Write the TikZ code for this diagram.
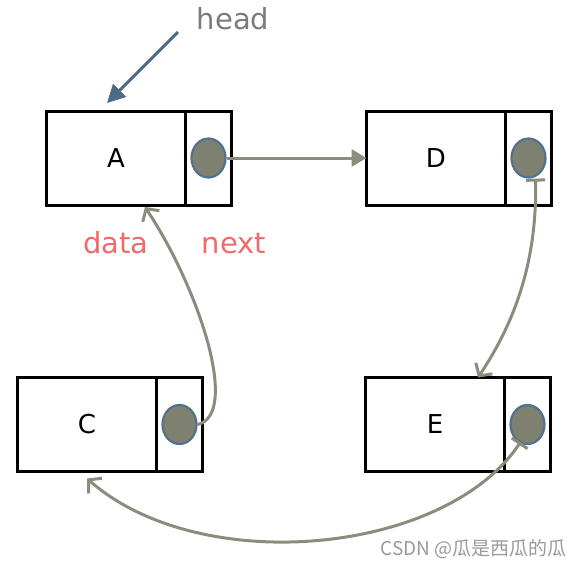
\documentclass[tikz,border=0pt]{standalone}
\usepackage{fontspec}
\setmainfont{DejaVu Sans}
\newfontfamily\cjkfont{Noto Sans CJK SC}
\usetikzlibrary{positioning,arrows.meta,shapes.geometric}
\definecolor{linkgray}{HTML}{8A8D7C}
\definecolor{dotfill}{HTML}{7E8070}
\definecolor{dotedge}{HTML}{52718F}
\definecolor{headblue}{HTML}{4D6B86}
\definecolor{labelred}{HTML}{F06A6A}
\definecolor{headgray}{HTML}{7B7B7B}
\tikzset{
databox/.style={draw,line width=3pt,outer sep=0pt,inner sep=0pt,
  minimum width=139pt,minimum height=94pt,font=\fontsize{26}{26}\selectfont},
nextbox/.style={draw,line width=3pt,outer sep=0pt,inner sep=0pt,
  minimum width=46pt,minimum height=94pt},
dot/.style={ellipse,draw=dotedge,fill=dotfill,line width=2.2pt,inner sep=0pt,
  minimum width=34pt,minimum height=39pt},
link/.style={draw=linkgray,line width=3pt},
curvelink/.style={link,{Bar[width=19pt]}-{Straight Barb[length=9pt,width=20pt]}},
tag/.style={font=\fontsize{29}{29}\selectfont,anchor=base}
}
\begin{document}
\begin{tikzpicture}[x=1pt,y=-1pt]
\useasboundingbox (0,0) rectangle (587,566);

\node[databox] (A) at (116,158) {A};
\node[nextbox,right=0pt of A] (Anext) {};
\node[dot] (Adot) at (Anext) {};

\node[databox] (D) at (436,158) {D};
\node[nextbox,right=0pt of D] (Dnext) {};
\node[dot] (Ddot) at (Dnext) {};

\node[databox] (C) at (87,424.5) {C};
\node[nextbox,right=0pt of C] (Cnext) {};
\node[dot] (Cdot) at (Cnext) {};

\node[databox] (E) at (435,424.5) {E};
\node[nextbox,right=0pt of E] (Enext) {};
\node[dot] (Edot) at (Enext) {};

\node[tag,text=headgray] (head) at (233,29) {head};
\node[tag,text=labelred] (data) at (116,253) {data};
\node[tag,text=labelred] (next) at (234,253) {next};
\node[anchor=base east,text=black!40,font=\cjkfont\fontsize{19}{19}\selectfont]
  (mark) at (570,555) {CSDN @瓜是西瓜的瓜};

\coordinate (headtail) at (178,32);
\coordinate (headtip) at (107,103);
\draw[headblue,line width=3pt,-{Triangle[length=18pt,width=18pt]}]
(headtail) -- (headtip);

\draw[link,-{Triangle[length=15pt,width=17pt]}]
(Adot) -- (D);
\draw[curvelink]
([xshift=7pt]Ddot.south) .. controls +(2,90) and +(32,-48) .. ([xshift=43pt]E.north);
\draw[link,-{Straight Barb[length=9pt,width=20pt]}]
(Cdot.east) .. controls (240,415) and (200,290) .. ([xshift=29pt,yshift=-2pt]A.south);
\draw[curvelink]
([xshift=-7pt,yshift=3pt]Edot.south) .. controls (445,555) and (200,578) .. ([yshift=-7pt]C.south);
\end{tikzpicture}
\end{document}
